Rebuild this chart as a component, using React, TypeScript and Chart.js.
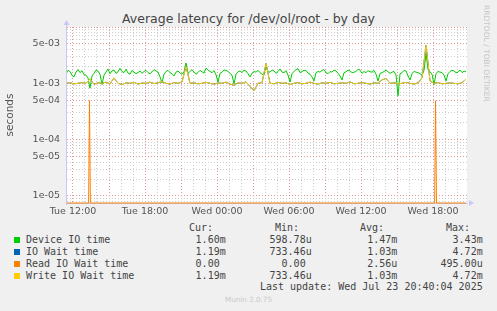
import React, { useEffect, useRef } from "react";
import { Chart, registerables } from "chart.js";

Chart.register(...registerables);

const TITLE = "Average latency for /dev/ol/root - by day";
const Y_LABEL = "seconds";
const Y_MIN = 7.5e-6;
const Y_MAX = 1.0e-2;
// hours since Tue 00:00
const X_MIN_H = 11.417;
const X_MAX_H = 44.83;
const SAMPLE_START_H = 11.4167;
const DEVICE_STEP_H = 1 / 6; // 10-minute samples
const WAIT_STEP_H = 1 / 3; // 20-minute samples
const DAY_NAMES = ["Tue", "Wed"];

// values in milliseconds
const deviceIoTimeMs = [
  1.45, 1.7, 1.62, 1.38, 1.3, 1.58, 1.75, 1.55, 1.68, 1.42,
  1.4, 1.25, 0.82, 1.35, 1.5, 1.72, 1.65, 1.45, 0.95, 1.4,
  1.58, 1.8, 1.48, 1.66, 1.72, 1.5, 1.6, 1.85, 1.62, 1.55,
  1.78, 1.52, 1.45, 1.7, 1.58, 1.48, 1.55, 1.65, 1.5, 1.62,
  1.7, 1.55, 1.48, 1.6, 1.75, 1.66, 1.58, 1.3, 1.02, 1.45,
  1.62, 1.7, 1.55, 1.48, 1.35, 1.58, 1.66, 1.52, 1.45, 1.6,
  2.3, 1.5, 1.62, 1.75, 1.58, 1.45, 1.55, 1.7, 1.6, 1.52,
  1.85, 1.72, 1.62, 1.55, 1.68, 1.42, 1.05, 1.5, 1.58, 1.72,
  1.7, 1.62, 1.5, 1.4, 0.98, 1.45, 1.6, 1.66, 1.55, 1.72,
  1.65, 1.48, 1.3, 1.52, 1.62, 1.58, 1.7, 1.55, 1.45, 1.4,
  2.05, 1.6, 1.58, 1.72, 1.66, 1.5, 1.62, 1.8, 1.58, 1.55,
  1.68, 1.4, 1.05, 1.5, 1.62, 1.75, 1.82, 1.55, 1.62, 1.7,
  1.68, 1.52, 1.45, 1.3, 1.1, 1.55, 1.62, 1.58, 1.7, 1.75,
  1.55, 1.48, 1.62, 1.58, 1.72, 1.66, 1.5, 1.35, 1.15, 1.55,
  1.6, 1.72, 1.66, 1.55, 1.58, 1.62, 1.78, 1.72, 1.5, 1.62,
  1.55, 1.68, 1.6, 1.58, 1.7, 1.45, 1.1, 1.5, 1.55, 1.62,
  1.72, 1.6, 1.5, 1.58, 1.62, 1.4, 0.6, 1.48, 1.55, 1.7,
  1.65, 1.35, 1.15, 1.5, 1.62, 1.58, 1.55, 1.48, 1.4, 1.7,
  3.43, 1.75, 1.6, 1.45, 0.95, 1.5, 1.62, 1.58, 1.55, 1.4,
  1.1, 1.48, 1.62, 1.7, 1.66, 1.55, 1.58, 1.72, 1.55, 1.65,
  1.6,
];

const writeIoWaitMs = [
  1.0, 1.02, 0.98, 1.0, 1.03, 1.0, 1.2, 0.96, 1.02, 1.0,
  1.05, 0.98, 1.25, 1.0, 0.95, 1.02, 1.0, 1.04, 0.97, 1.01,
  1.0, 1.05, 0.99, 1.02, 1.08, 1.0, 0.97, 1.03, 1.0, 1.06,
  2.0, 1.0, 1.02, 0.98, 1.0, 1.04, 1.0, 0.96, 1.02, 1.0,
  1.05, 0.97, 0.92, 1.02, 1.0, 1.06, 0.88, 0.74, 1.0, 1.03,
  2.25, 1.0, 0.98, 1.04, 1.0, 1.02, 0.95, 1.0, 1.03, 0.98,
  1.0, 1.05, 1.0, 0.97, 1.02, 1.0, 1.04, 0.98, 1.0, 1.02,
  1.0, 1.06, 0.98, 1.0, 1.03, 1.0, 0.97, 1.02, 1.0, 1.15,
  1.22, 1.0, 1.02, 0.98, 1.0, 1.04, 1.0, 0.97, 1.02, 1.25,
  4.72, 1.1, 1.0, 1.03, 0.98, 1.0, 1.02, 1.0, 0.98, 1.03,
  1.19,
];

// IO wait equals write IO wait on this host
const ioWaitMs = [...writeIoWaitMs];

const readWaitHours = [11.4167, 13.3, 13.375, 13.45, 42.13, 42.21, 42.29, 44.75];
const readWaitMs = [0, 0, 0.495, 0, 0, 0.49, 0, 0];

const seriesNames = ["Device IO time", "IO Wait time", "Read IO Wait time", "Write IO Wait time"];
const seriesColors = ["#00cc00", "#0066b3", "#ff8000", "#ffcc00"];
const curText = ["1.60m", "1.19m", "0.00 ", "1.19m"];
const minText = ["598.78u", "733.46u", "0.00 ", "733.46u"];
const avgText = ["1.47m", "1.03m", "2.56u", "1.03m"];
const maxText = ["3.43m", "4.72m", "495.00u", "4.72m"];
const headers = ["Cur:", "Min:", "Avg:", "Max:"];
const LAST_UPDATE = "Last update: Wed Jul 23 20:40:04 2025";
const FOOTER = "Munin 2.0.75";
const SIDE_TEXT = "RRDTOOL / TOBI OETIKER";

const MAJOR = "rgba(225,140,140,0.9)";
const MINOR = "rgba(200,200,200,0.9)";
const AXIS = "#c8c8f4";

const toSeries = (arr: number[], step: number) =>
  arr.map((v, i) => ({ x: SAMPLE_START_H + i * step, y: v * 1e-3 }));

const mantissa = (v: number) => {
  const e = Math.floor(Math.log10(v) + 1e-9);
  return { m: Math.round(v / Math.pow(10, e)), e };
};

const decorPlugin = {
  id: "munDecor",
  beforeDraw(chart: any) {
    const { ctx, chartArea } = chart;
    const { left, top, right, bottom } = chartArea;
    ctx.save();
    ctx.fillStyle = "#ffffff";
    ctx.fillRect(left, top, right - left, bottom - top);
    ctx.restore();
  },
  afterDraw(chart: any) {
    const { ctx, chartArea } = chart;
    const { left, top, right, bottom } = chartArea;
    ctx.save();
    ctx.strokeStyle = AXIS;
    ctx.fillStyle = AXIS;
    ctx.lineWidth = 1;
    ctx.beginPath();
    ctx.moveTo(left + 0.5, bottom + 2);
    ctx.lineTo(left + 0.5, top - 3);
    ctx.stroke();
    ctx.beginPath();
    ctx.moveTo(left + 0.5, top - 7);
    ctx.lineTo(left - 2.5, top - 2);
    ctx.lineTo(left + 3.5, top - 2);
    ctx.closePath();
    ctx.fill();
    ctx.beginPath();
    ctx.moveTo(right + 7, bottom);
    ctx.lineTo(right + 2, bottom - 3);
    ctx.lineTo(right + 2, bottom + 3);
    ctx.closePath();
    ctx.fill();
    ctx.restore();
  },
};

function LatencyChart() {
  const ref = useRef<HTMLCanvasElement | null>(null);
  useEffect(() => {
    if (!ref.current) return;
    const chart = new Chart(ref.current, {
      type: "line",
      data: {
        datasets: [
          {
            label: seriesNames[0],
            data: toSeries(deviceIoTimeMs, DEVICE_STEP_H),
            borderColor: seriesColors[0],
            borderWidth: 1,
            pointRadius: 0,
            order: 3,
          },
          {
            label: seriesNames[1],
            data: toSeries(ioWaitMs, WAIT_STEP_H),
            borderColor: seriesColors[1],
            borderWidth: 1,
            pointRadius: 0,
            order: 2,
          },
          {
            label: seriesNames[2],
            data: readWaitHours.map((h, i) => ({
              x: h,
              y: readWaitMs[i] === 0 ? Y_MIN : readWaitMs[i] * 1e-3,
            })),
            borderColor: seriesColors[2],
            borderWidth: 1,
            pointRadius: 0,
            order: 1,
            clip: { left: 0, top: 0, right: 0, bottom: 2 } as any,
          },
          {
            label: seriesNames[3],
            data: toSeries(writeIoWaitMs, WAIT_STEP_H),
            borderColor: seriesColors[3],
            borderWidth: 1,
            pointRadius: 0,
            order: 0,
          },
        ],
      },
      options: {
        animation: false,
        responsive: false,
        events: [],
        layout: { padding: { left: 0, right: 30, top: 27, bottom: 0 } },
        plugins: { legend: { display: false }, tooltip: { enabled: false } },
        scales: {
          x: {
            type: "linear",
            min: X_MIN_H,
            max: X_MAX_H,
            afterBuildTicks: (scale: any) => {
              const t = [];
              for (let h = Math.ceil(X_MIN_H); h <= Math.floor(X_MAX_H); h++) t.push({ value: h });
              scale.ticks = t;
            },
            afterFit: (scale: any) => {
              scale.height = 19;
            },
            ticks: {
              autoSkip: false,
              maxRotation: 0,
              padding: 3,
              color: "#555",
              font: { family: "DejaVu Sans", size: 9.5 },
              callback: (v: any) => {
                const h = Number(v);
                if (h % 6 !== 0) return "";
                const day = DAY_NAMES[Math.floor(h / 24)];
                const hh = String(h % 24).padStart(2, "0");
                return `${day} ${hh}:00`;
              },
            },
            grid: {
              drawTicks: false,
              color: (c: any) => (Math.round(c.tick?.value ?? 0) % 3 === 0 ? MAJOR : MINOR),
              lineWidth: 1,
            },
            border: { display: true, color: AXIS, width: 1, dash: [1, 2] },
          },
          y: {
            type: "logarithmic",
            min: Y_MIN,
            max: Y_MAX,
            afterBuildTicks: (scale: any) => {
              const t = [];
              for (let e = -6; e <= -2; e++) {
                for (let m = 1; m <= 9; m++) {
                  const v = parseFloat(`${m}e${e}`);
                  if (v >= Y_MIN && v <= Y_MAX * 1.0001) t.push({ value: v });
                }
              }
              scale.ticks = t;
            },
            afterFit: (scale: any) => {
              scale.width = 66;
            },
            ticks: {
              autoSkip: false,
              padding: 6,
              color: "#555",
              font: { family: "DejaVu Sans", size: 9.5 },
              callback: (v: any) => {
                const n = Number(v);
                if (n >= Y_MAX * 0.999) return "";
                const { m, e } = mantissa(n);
                if (m !== 1 && m !== 5) return "";
                const sign = e < 0 ? "-" : "+";
                return `${m}e${sign}${String(Math.abs(e)).padStart(2, "0")}`;
              },
            },
            grid: {
              drawTicks: false,
              color: (c: any) => {
                const v = c.tick?.value;
                if (!v) return MINOR;
                const { m } = mantissa(v);
                return m === 1 || m === 5 ? MAJOR : MINOR;
              },
              lineWidth: 1,
            },
            border: { display: true, color: AXIS, width: 1, dash: [1, 2] },
            title: {
              display: true,
              text: Y_LABEL,
              color: "#555",
              font: { family: "DejaVu Sans", size: 10.5 },
              padding: { top: 4, bottom: 0 },
            },
          },
        },
      },
      plugins: [decorPlugin],
    });
    return () => chart.destroy();
  }, []);
  return (
    <canvas
      ref={ref}
      width={497}
      height={222}
      style={{ position: "absolute", left: 0, top: 0, width: 497, height: 222 }}
    />
  );
}

const mono = "'DejaVu Sans Mono', monospace";
const rowCenters = [239.7, 251.7, 263.7, 275.7];
const colEnds = [225.7, 311.7, 397.3, 482.7];
const headerEnds = [213, 299, 384, 470];

function RightText({ end, center, text, color = "#444" }: any) {
  return (
    <div
      style={{
        position: "absolute",
        left: end - 300,
        width: 300,
        top: center - 6,
        height: 12,
        lineHeight: "12px",
        textAlign: "right",
        whiteSpace: "pre",
        fontFamily: mono,
        fontSize: 10,
        color,
      }}
    >
      {text}
    </div>
  );
}

export default function App() {
  const cols = [curText, minText, avgText, maxText];
  return (
    <div
      style={{
        position: "fixed",
        left: 0,
        top: 0,
        width: 497,
        height: 311,
        background: "#f0f0f0",
        overflow: "hidden",
      }}
    >
      <div
        style={{
          position: "absolute",
          left: 0,
          width: 497,
          top: 11,
          height: 16,
          lineHeight: "16px",
          textAlign: "center",
          fontFamily: "'DejaVu Sans', sans-serif",
          fontSize: 12.5,
          color: "#444",
          whiteSpace: "pre",
        }}
      >
        {TITLE}
      </div>
      <LatencyChart />
      <div
        style={{
          position: "absolute",
          left: 481,
          top: 5,
          writingMode: "vertical-rl",
          fontFamily: "'DejaVu Sans', sans-serif",
          fontSize: 7.5,
          lineHeight: "10px",
          color: "#c4c4c4",
          whiteSpace: "pre",
        }}
      >
        {SIDE_TEXT}
      </div>
      {headers.map((h, i) => (
        <RightText key={"h" + i} end={headerEnds[i]} center={228.3} text={h} />
      ))}
      {seriesNames.map((name, r) => (
        <React.Fragment key={name}>
          <div
            style={{
              position: "absolute",
              left: 14,
              top: rowCenters[r] - 3,
              width: 6,
              height: 6,
              background: seriesColors[r],
            }}
          />
          <div
            style={{
              position: "absolute",
              left: 26,
              top: rowCenters[r] - 6,
              height: 12,
              lineHeight: "12px",
              whiteSpace: "pre",
              fontFamily: mono,
              fontSize: 10,
              color: "#444",
            }}
          >
            {name}
          </div>
          {cols.map((c, k) => (
            <RightText key={k} end={colEnds[k]} center={rowCenters[r]} text={c[r]} />
          ))}
        </React.Fragment>
      ))}
      <RightText end={482.7} center={287.3} text={LAST_UPDATE} />
      <div
        style={{
          position: "absolute",
          left: 0,
          width: 497,
          top: 295,
          height: 10,
          lineHeight: "10px",
          textAlign: "center",
          fontFamily: "'DejaVu Sans', sans-serif",
          fontSize: 7.2,
          color: "#c8c8c8",
        }}
      >
        {FOOTER}
      </div>
    </div>
  );
}
